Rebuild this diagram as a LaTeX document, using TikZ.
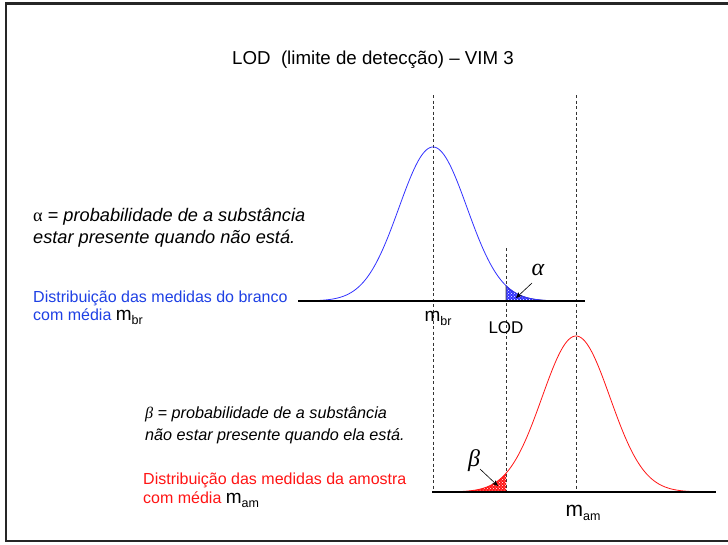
\documentclass[tikz,border=0pt]{standalone}
\usepackage{fontspec}
\setmainfont{Liberation Sans}
\newfontfamily\serifgr{Liberation Serif}
\usetikzlibrary{patterns,arrows.meta}
\definecolor{bluetxt}{RGB}{30,64,228}
\definecolor{bluecurve}{RGB}{50,50,255}
\definecolor{redc}{RGB}{255,20,20}
\newcommand{\msub}[1]{\raisebox{-0.4ex}{\fontsize{12.5}{12.5}\selectfont #1}}
\begin{document}
\begin{tikzpicture}[x=1pt,y=-1pt,
  txt/.style={inner sep=0pt,anchor=west},
  dashv/.style={draw=black!80,line width=0.7pt,dash pattern=on 3pt off 2.5pt},
  baseln/.style={draw=black,line width=1.3pt},
  ptr/.style={draw=black,line width=0.6pt,-{Stealth[length=6pt,width=5pt]}}]
\useasboundingbox (0,0) rectangle (728,544);
% frame
\draw[line width=2.6pt,black!85] (740,3.5) -- (6,3.5) -- (6,541) -- (740,541);
% title
\node[inner sep=0pt] (title) at (373,60) {\fontsize{18.7}{20}\selectfont LOD\ \ (limite de detecção) – VIM 3};
% dashed verticals
\coordinate (mbrT) at (433,95); \coordinate (mbrB) at (433,492);
\coordinate (lodT) at (506,248); \coordinate (lodB) at (506,492);
\coordinate (mamT) at (576,95); \coordinate (mamB) at (576,492);
\draw[dashv] (mbrT) -- (mbrB);
\draw[dashv] (lodT) -- (lodB);
\draw[dashv] (mamT) -- (mamB);
% shaded alpha region
\fill[bluecurve] (506,301) -- plot[domain=506:572,samples=40] (\x,{301-154*exp(-0.5*((\x-433)/34)^2)}) -- (572,301) -- cycle;
\fill[pattern=crosshatch dots,pattern color=white] (506,301) -- plot[domain=506:572,samples=40] (\x,{301-154*exp(-0.5*((\x-433)/34)^2)}) -- (572,301) -- cycle;
\draw[black!75,line width=0.6pt] (506,301) -- plot[domain=506:572,samples=40] (\x,{301-154*exp(-0.5*((\x-433)/34)^2)});
% shaded beta region
\fill[redc] (437,492) -- plot[domain=437:506,samples=40] (\x,{492-156*exp(-0.5*((\x-576)/34)^2)}) -- (506,492) -- cycle;
\fill[pattern=crosshatch dots,pattern color=white] (437,492) -- plot[domain=437:506,samples=40] (\x,{492-156*exp(-0.5*((\x-576)/34)^2)}) -- (506,492) -- cycle;
% curves
\draw[bluecurve,line width=0.8pt] plot[domain=298:560,samples=150] (\x,{301-154*exp(-0.5*((\x-433)/34)^2)});
\draw[redc,line width=0.8pt] plot[domain=437:706,samples=150] (\x,{492-156*exp(-0.5*((\x-576)/34)^2)});
% baselines
\coordinate (b1L) at (298,301); \coordinate (b1R) at (585,301);
\coordinate (b2L) at (432,492); \coordinate (b2R) at (716,492);
\draw[baseln] (b1L) -- (b1R);
\draw[baseln] (b2L) -- (b2R);
% alpha / beta labels and pointers
\node[inner sep=0pt] (alab) at (538,270) {\fontsize{24}{24}\selectfont\serifgr\itshape α};
\coordinate (aS) at (532,283); \coordinate (aE) at (516,298);
\draw[ptr] (aS) -- (aE);
\node[inner sep=0pt] (blab) at (474,461) {\fontsize{24}{24}\selectfont\serifgr\itshape β};
\coordinate (bS) at (480,469); \coordinate (bE) at (498,486);
\draw[ptr] (bS) -- (bE);
% axis labels
\node[inner sep=0pt] (mbr) at (438,318) {\fontsize{19}{19}\selectfont m\msub{br}};
\node[inner sep=0pt] (lod) at (506,328) {\fontsize{17}{17}\selectfont LOD};
\node[inner sep=0pt] (mam) at (583,513) {\fontsize{21}{21}\selectfont m\msub{am}};
% texts
\node[txt] (at1) at (33,217) {\fontsize{18.2}{20}\selectfont{\serifgr α} = \itshape probabilidade de a substância};
\node[txt] (at2) at (33,239) {\fontsize{18.2}{20}\selectfont\itshape estar presente quando não está.};
\node[txt,text=bluetxt] (bt1) at (33,298) {\fontsize{16}{18}\selectfont Distribuição das medidas do branco};
\node[txt] (bt2) at (33,317) {\fontsize{16}{18}\selectfont\textcolor{bluetxt}{com média} {\fontsize{19}{19}\selectfont m\msub{br}}};
\node[txt] (bet1) at (145,414) {\fontsize{16.2}{18}\selectfont{\serifgr\itshape β} = \itshape probabilidade de a substância};
\node[txt] (bet2) at (145,436) {\fontsize{16.2}{18}\selectfont\itshape não estar presente quando ela está.};
\node[txt,text=redc] (rt1) at (143,480) {\fontsize{16}{18}\selectfont Distribuição das medidas da amostra};
\node[txt] (rt2) at (143,500) {\fontsize{16}{18}\selectfont\textcolor{redc}{com média} {\fontsize{19}{19}\selectfont m\msub{am}}};
\end{tikzpicture}
\end{document}
